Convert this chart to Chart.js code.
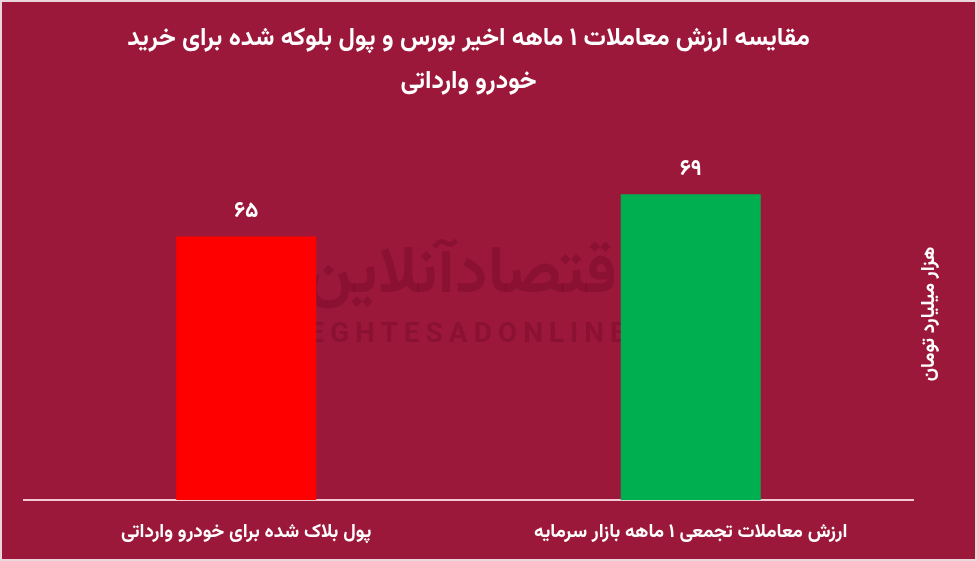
<!DOCTYPE html>
<html lang="fa">
<head>
<meta charset="utf-8">
<script src="https://cdn.jsdelivr.net/npm/chart.js@4.4.1/dist/chart.umd.min.js"></script>
<style>
    html, body { margin: 0; padding: 0; background: #9c183b; }
    #wrap { position: relative; width: 977px; height: 561px; }
    #frame { position: absolute; inset: 0; border: 2px solid #e9d7dc; pointer-events: none; }
</style>
</head>
<body>
<div id="wrap">
    <canvas id="barChart" width="977" height="561"></canvas>
    <div id="frame"></div>
</div>
<script>
// data
const categories = ['پول بلاک شده برای خودرو وارداتی', 'ارزش معاملات تجمعی ۱ ماهه بازار سرمایه'];
const values = [65, 69];
const barColors = ['#ff0000', '#00b050'];
const titleLines = ['مقایسه ارزش معاملات ۱ ماهه اخیر بورس و پول بلوکه شده برای خرید', 'خودرو وارداتی'];
const unitLabel = 'هزار میلیارد تومان';

const FONT = "Vazirmatn, 'DejaVu Sans', sans-serif";

function toPersianDigits(n) {
    return String(n).replace(/\d/g, d => '۰۱۲۳۴۵۶۷۸۹'[d]);
}

// faint watermark behind the bars
const watermark = {
    id: 'watermark',
    beforeDatasetsDraw(chart) {
        const { ctx } = chart;
        ctx.save();
        ctx.fillStyle = 'rgba(115, 8, 38, 0.4)';
        ctx.textAlign = 'center';
        ctx.textBaseline = 'middle';
        ctx.font = `bold 66px ${FONT}`;
        ctx.fillText('اقتصادآنلاین', 470, 282);
        ctx.font = `bold 28px ${FONT}`;
        ctx.letterSpacing = '6px';
        ctx.fillText('EGHTESADONLINE', 470, 338);
        ctx.restore();
    }
};

// value above each bar
const valueLabels = {
    id: 'valueLabels',
    afterDatasetsDraw(chart) {
        const { ctx } = chart;
        const meta = chart.getDatasetMeta(0);
        ctx.save();
        ctx.fillStyle = '#ffffff';
        ctx.font = `bold 22px ${FONT}`;
        ctx.textAlign = 'center';
        ctx.textBaseline = 'bottom';
        meta.data.forEach((bar, i) => {
            ctx.fillText(toPersianDigits(values[i]), bar.x, bar.y - 12);
        });
        ctx.restore();
    }
};

// unit title on the right side, reading top to bottom
const unitTitle = {
    id: 'unitTitle',
    afterDraw(chart) {
        const { ctx } = chart;
        ctx.save();
        ctx.translate(931, 314);
        ctx.rotate(-Math.PI / 2);
        ctx.fillStyle = '#ffffff';
        ctx.font = `bold 19px ${FONT}`;
        ctx.textAlign = 'center';
        ctx.textBaseline = 'middle';
        ctx.fillText(unitLabel, 0, 0);
        ctx.restore();
    }
};

const ctx = document.getElementById('barChart').getContext('2d');
new Chart(ctx, {
    type: 'bar',
    data: {
        labels: categories,
        datasets: [{
            data: values,
            backgroundColor: barColors,
            borderWidth: 0,
            categoryPercentage: 1,
            barPercentage: 0.315
        }]
    },
    options: {
        responsive: false,
        animation: false,
        layout: { padding: { left: 24, right: 64, bottom: 0 } },
        scales: {
            x: {
                afterFit(scale) { scale.height = 61; },
                grid: { display: false },
                border: { display: true, color: '#f2c9d2', width: 2 },
                ticks: {
                    color: '#ffffff',
                    padding: 15,
                    maxRotation: 0,
                    font: { family: FONT, size: 19, weight: 'bold', lineHeight: 1.2 }
                }
            },
            y: {
                display: false,
                min: 40,
                max: 75
            }
        },
        plugins: {
            legend: { display: false },
            tooltip: { enabled: false },
            title: {
                display: true,
                text: titleLines,
                color: '#ffffff',
                padding: { top: 20, bottom: 25 },
                font: { family: FONT, size: 25, weight: 'bold', lineHeight: 1.72 }
            }
        }
    },
    plugins: [watermark, valueLabels, unitTitle]
});
</script>
</body>
</html>
